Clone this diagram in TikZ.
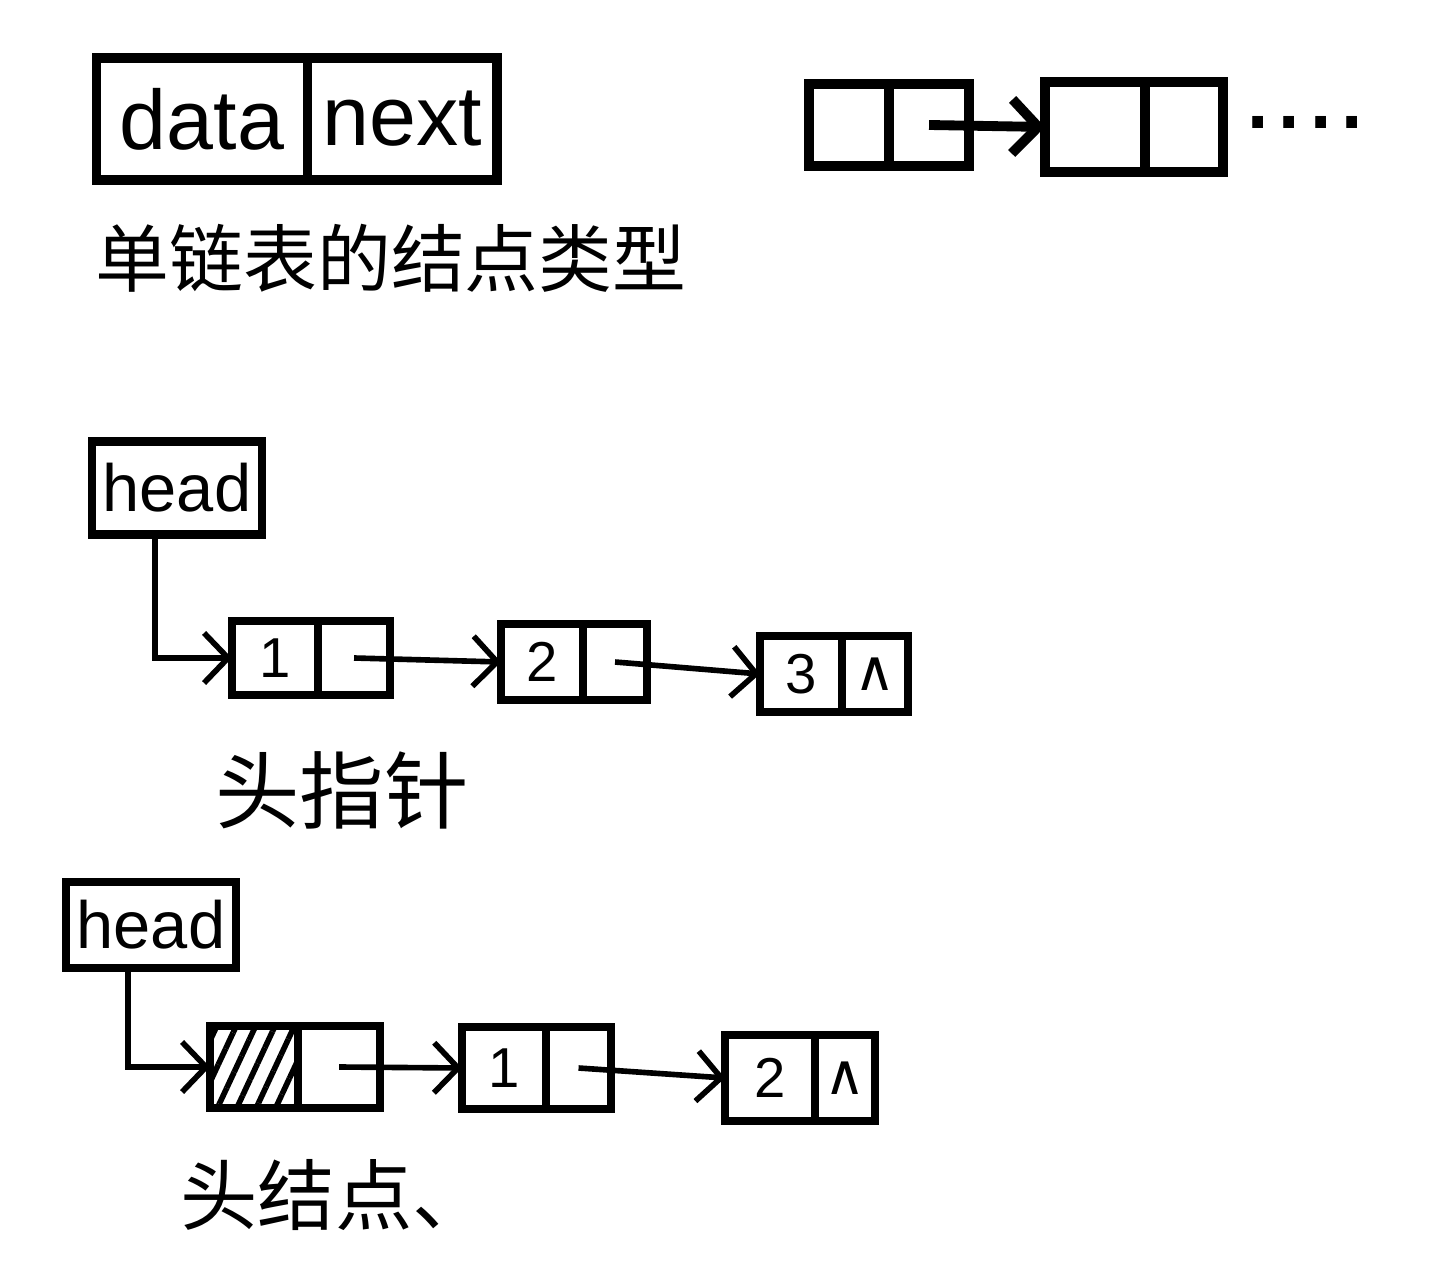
\documentclass[tikz,border=0pt]{standalone}
\usepackage{fontspec}
\setmainfont{Liberation Sans}
\newfontfamily\cjk{Noto Sans CJK SC}
\newfontfamily\symf{DejaVu Sans}
\usetikzlibrary{arrows.meta, positioning, patterns.meta}
\tikzstyle{bigcell} = [rectangle, 
draw=black, 
line width=2.8pt, 
inner sep=0pt, outer sep=0pt, 
minimum height=1.22cm, 
font=\fontsize{24}{24}\selectfont]
\tikzstyle{blank} = [rectangle, 
draw=black, 
line width=3pt, 
inner sep=0pt, outer sep=0pt]
\tikzstyle{headbox} = [rectangle, 
draw=black, 
line width=2.4pt, 
inner sep=0pt, outer sep=0pt, 
minimum width=1.7cm, 
font=\fontsize{19}{19}\selectfont]
\tikzstyle{cell} = [rectangle, 
draw=black, 
line width=2.2pt, 
inner sep=0pt, outer sep=0pt, 
font=\fontsize{16}{16}\selectfont]
\tikzstyle{caption} = [font=\cjk\fontsize{21}{21}\selectfont]
\tikzstyle{arrow} = [line width=1.6pt, -{Straight Barb[length=2.4mm, width=5mm, line width=1.6pt]}]
\tikzstyle{bigarrow} = [line width=2.8pt, -{Straight Barb[length=2.6mm, width=5.4mm, line width=2.8pt]}]

\begin{document}
\begin{tikzpicture}[x=0.01cm, y=-0.01cm]
        \useasboundingbox (0,0) rectangle (1440,1283);

        % --- Tipo de nodo ---
        \node (data) [bigcell, minimum width=2.11cm] at (202,119) {data};
        \node (next) [bigcell, minimum width=1.89cm, right=0pt of data] {next};
        \node (cap_tipo) [caption] at (391,258) {单链表的结点类型};

        % --- Dos nodos vacíos ---
        \node (pd) [blank, minimum width=0.8cm, minimum height=0.82cm] at (849,125) {};
        \node (pp) [blank, minimum width=0.8cm, minimum height=0.82cm, right=0pt of pd] {};
        \node (qd) [blank, minimum width=1.0cm, minimum height=0.9cm] at (1095,127) {};
        \node (qp) [blank, minimum width=0.78cm, minimum height=0.9cm, right=0pt of qd] {};
        \node (dots) [font=\fontsize{32}{32}\selectfont] at (1305,122) {....};
        \draw [bigarrow] (pp.center) -- (qd.west);

        % --- Lista con puntero de cabeza ---
        \node (head1) [headbox, minimum height=0.93cm] at (177,488) {head};
        \node (n1d) [cell, minimum width=0.86cm, minimum height=0.74cm] at (275,658) {1};
        \node (n1p) [cell, minimum width=0.72cm, minimum height=0.74cm, right=0pt of n1d] {};
        \node (n2d) [cell, minimum width=0.82cm, minimum height=0.76cm] at (542,662) {2};
        \node (n2p) [cell, minimum width=0.64cm, minimum height=0.76cm, right=0pt of n2d] {};
        \node (n3d) [cell, minimum width=0.82cm, minimum height=0.76cm] at (801,674) {3};
        \node (n3p) [cell, minimum width=0.66cm, minimum height=0.76cm, right=0pt of n3d] {\symf ∧};
        \node (cap_ptr) [caption, font=\cjk\fontsize{24}{24}\selectfont] at (342,790) {头指针};

        \draw [arrow] ([xshift=-0.22cm]head1.south) |- (n1d.west);
        \draw [arrow] (n1p.center) -- (n2d.west);
        \draw [arrow] (n2p.center) -- (n3d.west);

        % --- Lista con nodo de cabeza ---
        \node (head2) [headbox, minimum height=0.86cm] at (151,925) {head};
        \node (hd) [cell, minimum width=0.88cm, minimum height=0.82cm, 
            pattern={Lines[angle=65, distance=5pt, line width=1.6pt]}] at (254,1067) {};
        \node (hp) [cell, minimum width=0.82cm, minimum height=0.82cm, right=0pt of hd] {};
        \node (a1d) [cell, minimum width=0.84cm, minimum height=0.82cm] at (504,1068) {1};
        \node (a1p) [cell, minimum width=0.65cm, minimum height=0.82cm, right=0pt of a1d] {};
        \node (a2d) [cell, minimum width=0.9cm, minimum height=0.86cm] at (770,1078) {2};
        \node (a2p) [cell, minimum width=0.6cm, minimum height=0.86cm, right=0pt of a2d] {\symf ∧};
        \node (cap_nodo) [caption, font=\cjk\fontsize{22}{22}\selectfont] at (335,1195) {头结点、};

        \draw [arrow] ([xshift=-0.23cm]head2.south) |- (hd.west);
        \draw [arrow] (hp.center) -- (a1d.west);
        \draw [arrow] (a1p.center) -- (a2d.west);

    \end{tikzpicture}
\end{document}
